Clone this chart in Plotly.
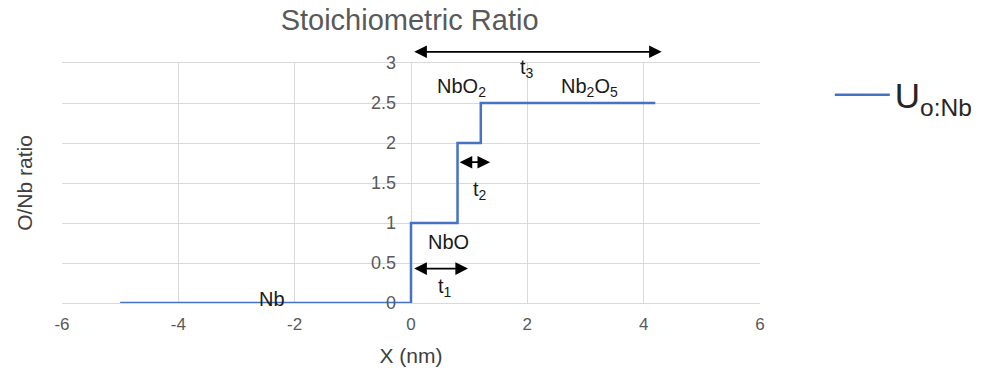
import plotly.graph_objects as go

# Step profile of O/Nb ratio
x_vals = [-5, 0, 0, 0.8, 0.8, 1.2, 1.2, 4.2]
y_vals = [0, 0, 1, 1, 2, 2, 2.5, 2.5]

x_ticks = [-6, -4, -2, 0, 2, 4, 6]
x_tick_text = ["-6", "-4", "-2", "0", "2", "4", "6"]
y_ticks = [0, 0.5, 1, 1.5, 2, 2.5, 3]

# phase labels: (text, x, y)
labels = [
    ("NbO<sub>2</sub>", 0.86, 2.7),
    ("Nb<sub>2</sub>O<sub>5</sub>", 3.07, 2.7),
    ("NbO", 0.64, 0.76),
    ("Nb", -2.39, 0.05),
    ("t<sub>1</sub>", 0.58, 0.2),
    ("t<sub>2</sub>", 1.19, 1.41),
    ("t<sub>3</sub>", 2.0, 2.93),
]
# double arrows: (x0, x1, y)
arrows = [
    (0.03, 4.31, 3.14),
    (0.03, 0.98, 0.43),
    (0.81, 1.36, 1.76),
]
Y_MAX = 3.0

fig = go.Figure()
fig.add_trace(go.Scatter(x=x_vals, y=y_vals, mode="lines",
                         line=dict(color="#4472C4", width=2.5),
                         name="U<sub>o:Nb</sub>"))

for t, xx, yy in labels:
    fig.add_annotation(x=xx, y=yy, text=t, showarrow=False,
                       font=dict(size=20, color="#1a1a1a", family="Liberation Sans"))

for x0, x1, yy in arrows:
    fig.add_annotation(x=x1, y=yy / Y_MAX, ax=x0, ay=yy / Y_MAX, axref="x", ayref="y domain",
                       xref="x", yref="y domain", text="", showarrow=True,
                       arrowhead=2, arrowside="end+start", arrowsize=1.4,
                       arrowwidth=1.8, arrowcolor="black")

fig.update_layout(
    width=999, height=377,
    margin=dict(l=62, r=239, t=63, b=74),
    paper_bgcolor="white", plot_bgcolor="white",
    font=dict(family="Liberation Sans", color="#595959"),
    title=dict(text="Stoichiometric Ratio", x=0.41, xanchor="center",
               y=0.947, yanchor="middle",
               font=dict(size=29, color="#595959", family="Liberation Sans")),
    showlegend=True,
    legend=dict(x=1.1, y=0.867, xanchor="left", yanchor="middle",
                font=dict(size=35, color="#262626", family="Liberation Sans"),
                itemwidth=55,
                bgcolor="rgba(0,0,0,0)"),
    xaxis=dict(range=[-6, 6], tickvals=x_ticks, ticktext=x_tick_text, showgrid=True,
               gridcolor="#d9d9d9", gridwidth=1, zeroline=False,
               showline=True, linecolor="#d9d9d9", mirror=True,
               ticklabelstandoff=6,
               tickfont=dict(size=17, color="#595959"), ticks="",
               title=dict(text="X (nm)", font=dict(size=21, color="#404040"), standoff=14)),
    yaxis=dict(range=[0, Y_MAX], tickvals=y_ticks, showgrid=True,
               gridcolor="#d9d9d9", gridwidth=1, zeroline=False,
               showline=False, anchor="free", position=0.5,
               ticklabelstandoff=15,
               tickfont=dict(size=18, color="#595959"), ticks=""),
)
# y-axis title placed at the far left
fig.add_annotation(x=-0.074, y=0.5, xref="paper", yref="paper", text="O/Nb ratio",
                   showarrow=False, textangle=-90,
                   font=dict(size=21, color="#404040", family="Liberation Sans"))

fig.write_html("out.html")
